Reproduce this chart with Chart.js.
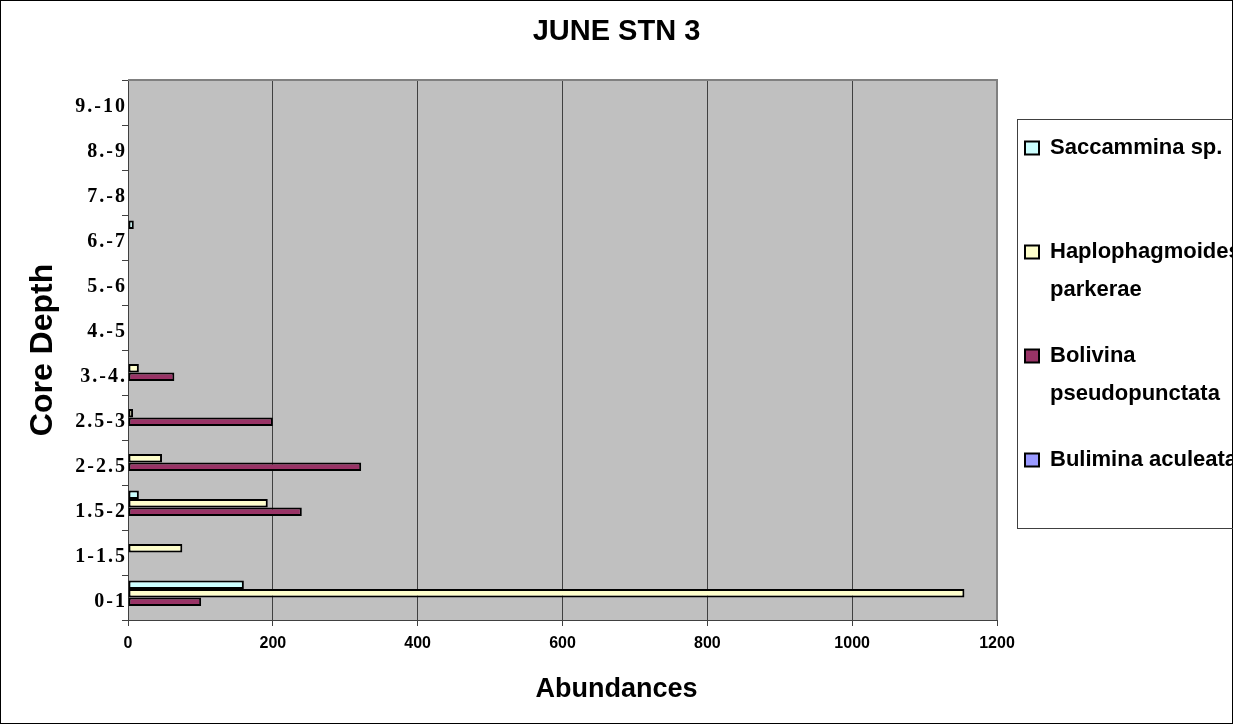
<!DOCTYPE html>
<html>
<head>
<meta charset="utf-8">
<title>JUNE STN 3</title>
<script src="https://cdn.jsdelivr.net/npm/chart.js@4.4.1/dist/chart.umd.min.js"></script>
<style>
  html, body { margin: 0; padding: 0; background: #fff; }
  #wrap { width: 1233px; height: 724px; }
</style>
</head>
<body>
<div id="wrap"><canvas id="chart"></canvas></div>
<script>
// Depth intervals, listed top to bottom (deepest first)
const depths = ['9.-10', '8.-9', '7.-8', '6.-7', '5.-6', '4.-5', '3.-4.', '2.5-3', '2-2.5', '1.5-2', '1-1.5', '0-1'];

// Abundances per interval, same order as depths
const saccammina = [0, 0, 0, 8, 0, 0, 0, 0, 0, 15, 0, 160];
const haplophagmoides = [0, 0, 0, 0, 0, 0, 15, 7, 47, 193, 75, 1155];
const bolivina = [0, 0, 0, 0, 0, 0, 64, 200, 322, 240, 0, 101];
const bulimina = [0, 0, 0, 0, 0, 0, 0, 0, 0, 0, 0, 0];

const species = ['Saccammina sp.', 'Haplophagmoides parkerae', 'Bolivina pseudopunctata', 'Bulimina aculeata'];
const legendLines = [['Saccammina sp.', ''], ['Haplophagmoides', 'parkerae'], ['Bolivina', 'pseudopunctata'], ['Bulimina aculeata']];
const colors = ['#ccffff', '#ffffcc', '#993366', '#9999ff'];
const xTicks = [0, 200, 400, 600, 800, 1000, 1200];

const SANS = "'Liberation Sans', Arial, sans-serif";
const SERIF = "'Liberation Serif', 'Times New Roman', serif";

function series(i, data) {
  return {
    label: species[i],
    data,
    backgroundColor: colors[i],
    borderColor: '#000',
    borderWidth: 2,
    borderSkipped: false
  };
}

// grey plot background, frame lines, outer border and the legend box
const sheet = {
  id: 'sheet',
  beforeDraw(chart) {
    const { ctx, chartArea: a } = chart;
    ctx.save();
    ctx.fillStyle = '#c0c0c0';
    ctx.fillRect(a.left, a.top, a.right - a.left, a.bottom - a.top);
    ctx.restore();

    // depth labels are drawn with loose letter spacing
    const y = chart.scales.y;
    if (!y._spaced) {
      const draw = y.drawLabels.bind(y);
      y.drawLabels = area => {
        chart.ctx.save();
        chart.ctx.letterSpacing = '2px';
        draw(area);
        chart.ctx.restore();
      };
      y._spaced = true;
    }
  },
  beforeDatasetsDraw(chart) {
    const { ctx, chartArea: a } = chart;
    ctx.save();
    ctx.strokeStyle = '#808080';
    ctx.lineWidth = 2;
    ctx.beginPath();
    ctx.moveTo(a.left, a.top);
    ctx.lineTo(a.right, a.top);
    ctx.lineTo(a.right, a.bottom);
    ctx.stroke();
    ctx.restore();
  },
  afterDraw(chart) {
    const { ctx, width, height, legend } = chart;
    ctx.save();
    ctx.lineWidth = 1;
    ctx.strokeStyle = '#000';
    ctx.strokeRect(0.5, 0.5, width - 1, height - 1);
    ctx.strokeStyle = '#404040';
    ctx.strokeRect(legend.left + 20.5, 119.5, legend.width, 409);
    ctx.restore();
  }
};

new Chart(document.getElementById('chart'), {
  type: 'bar',
  data: {
    labels: depths,
    datasets: [
      series(0, saccammina),
      series(1, haplophagmoides),
      series(2, bolivina),
      series(3, bulimina)
    ]
  },
  options: {
    indexAxis: 'y',
    responsive: true,
    maintainAspectRatio: false,
    animation: false,
    layout: { padding: 0 },
    datasets: { bar: { categoryPercentage: 0.76, barPercentage: 1 } },
    scales: {
      x: {
        min: xTicks[0],
        max: xTicks[xTicks.length - 1],
        afterFit(s) { s.height = 53.6; },
        ticks: {
          stepSize: xTicks[1] - xTicks[0],
          color: '#000',
          padding: 8,
          font: { family: SANS, size: 16, weight: 'bold' },
          callback: v => String(v)
        },
        grid: {
          color: c => (c.tick && c.tick.value === 1200 ? '#808080' : '#404040'),
          tickColor: '#404040',
          tickLength: 6
        },
        border: { color: '#404040' }
      },
      y: {
        afterFit(s) { s.width = 128; },
        ticks: {
          autoSkip: false,
          color: '#000',
          padding: -5,
          labelOffset: 4,
          font: { family: SERIF, size: 20, weight: 'bold' }
        },
        grid: { drawOnChartArea: false, color: '#404040', tickLength: 6 },
        border: { color: '#404040' },
        title: {
          display: true,
          text: 'Core Depth',
          color: '#000',
          padding: { top: 24, bottom: 0 },
          font: { family: SANS, size: 32, weight: 'bold' }
        }
      }
    },
    plugins: {
      title: {
        display: true,
        text: 'JUNE STN 3',
        color: '#000',
        padding: { top: 14.6, bottom: 30.6 },
        font: { family: SANS, size: 29, weight: 'bold' }
      },
      subtitle: {
        display: true,
        position: 'bottom',
        text: 'Abundances',
        color: '#000',
        padding: { top: 0, bottom: 18 },
        font: { family: SANS, size: 27, weight: 'bold' }
      },
      legend: {
        position: 'right',
        align: 'start',
        maxWidth: 236,
        title: { display: true, text: '', padding: { top: 97, bottom: 0 }, font: { size: 10 } },
        labels: {
          padding: 28,
          boxWidth: 14,
          boxHeight: 13,
          color: '#000',
          font: { family: SANS, size: 22, weight: 'bold', lineHeight: '38px' },
          generateLabels(chart) {
            const items = Chart.defaults.plugins.legend.labels.generateLabels(chart);
            items.forEach((it, i) => { it.text = legendLines[i]; });
            return items;
          }
        }
      },
      tooltip: { enabled: false }
    }
  },
  plugins: [sheet]
});
</script>
</body>
</html>
